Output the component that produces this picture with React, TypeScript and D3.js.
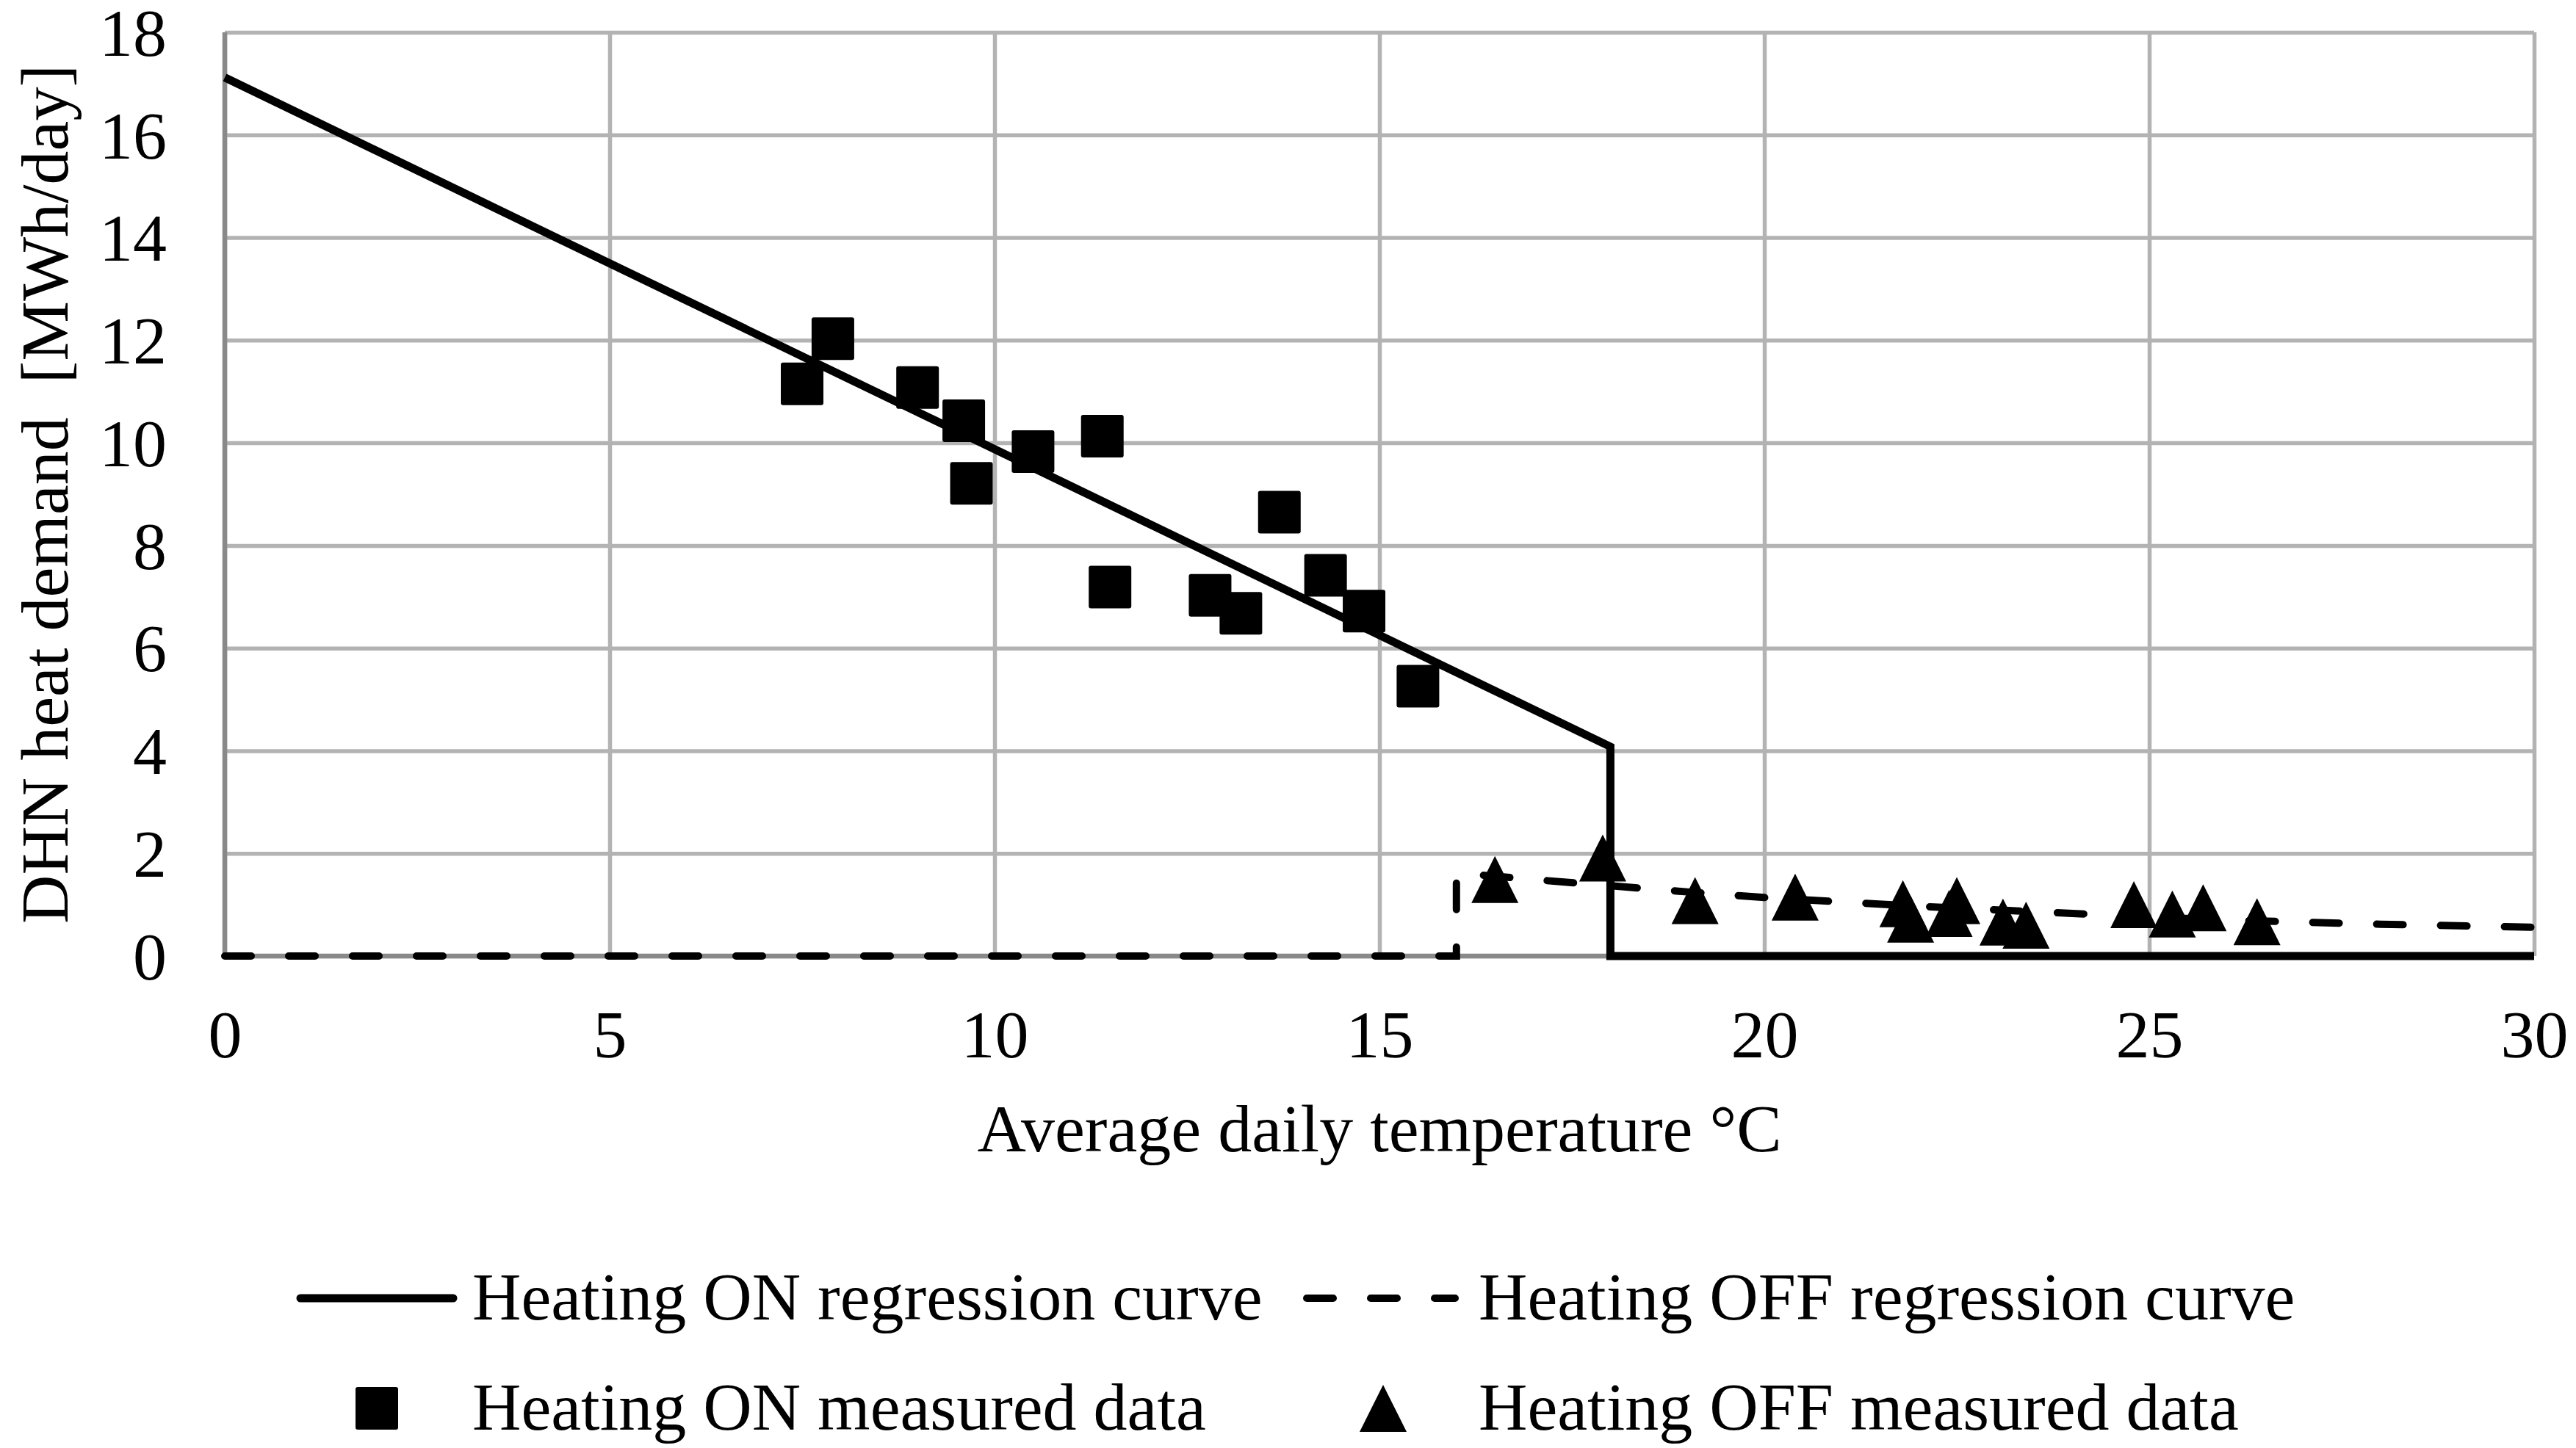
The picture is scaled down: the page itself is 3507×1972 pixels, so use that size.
import React, { useEffect, useRef } from 'react';
import * as d3 from 'd3';

// Heating ON measured data (temperature °C, MWh/day)
const onTemps = [7.5, 7.9, 9.0, 9.6, 9.7, 10.5, 11.4, 11.5, 12.8, 13.2, 13.7, 14.3, 14.8, 15.5];
const onDemand = [11.15, 12.03, 11.08, 10.43, 9.21, 9.83, 10.13, 7.19, 7.03, 6.68, 8.65, 7.42, 6.72, 5.26];

// Heating OFF measured data
const offTemps = [16.5, 17.9, 19.1, 20.4, 21.8, 21.9, 22.5, 22.4, 23.1, 23.4, 24.8, 25.3, 25.7, 26.4];
const offDemand = [1.49, 1.91, 1.08, 1.15, 1.02, 0.72, 1.08, 0.83, 0.66, 0.6, 1.0, 0.82, 0.94, 0.67];

// Regression curves
const onCurveT = [0, 18, 18, 30];
const onCurveY = [17.12, 4.08, 0, 0];
const offCurveT = [0, 16, 16, 17, 18, 19, 20, 22, 24, 26, 28, 30];
const offCurveY = [0, 0, 1.62, 1.49, 1.37, 1.25, 1.14, 0.97, 0.83, 0.7, 0.62, 0.56];

const xTicks = [0, 5, 10, 15, 20, 25, 30];
const yTicks = [0, 2, 4, 6, 8, 10, 12, 14, 16, 18];

const legendLabels = [
  'Heating ON regression curve',
  'Heating OFF regression curve',
  'Heating ON measured data',
  'Heating OFF measured data',
];

const W = 3507;
const H = 1972;
const FONT = '"Liberation Serif", "Times New Roman", serif';

export default function App() {
  const svgRef = useRef<SVGSVGElement>(null);

  useEffect(() => {
    if (!svgRef.current) return;
    const svg = d3.select(svgRef.current);
    svg.selectAll('*').remove();

    const margin = { top: 44, right: 57, bottom: 670, left: 306 };
    const width = W - margin.left - margin.right;
    const height = H - margin.top - margin.bottom;

    const x = d3.scaleLinear().domain([0, 30]).range([0, width]);
    const y = d3.scaleLinear().domain([0, 18]).range([height, 0]);

    const g = svg.append('g').attr('transform', `translate(${margin.left},${margin.top})`);

    // grid
    const gridY = g.append('g').call(d3.axisLeft(y).tickValues(yTicks).tickSize(-width).tickFormat(() => ''));
    gridY.select('.domain').remove();
    gridY.selectAll('line').attr('stroke', '#b3b3b3').attr('stroke-width', 5.5);

    const gridX = g.append('g').attr('transform', `translate(0,${height})`)
      .call(d3.axisBottom(x).tickValues(xTicks).tickSize(-height).tickFormat(() => ''));
    gridX.select('.domain').remove();
    gridX.selectAll('line').attr('stroke', '#b3b3b3').attr('stroke-width', 5.5);

    // axis lines
    g.append('line').attr('x1', 0).attr('x2', 0).attr('y1', 0).attr('y2', height)
      .attr('stroke', '#898989').attr('stroke-width', 6.5);
    g.append('line').attr('x1', 0).attr('x2', width).attr('y1', height).attr('y2', height)
      .attr('stroke', '#898989').attr('stroke-width', 6.5);

    // tick labels
    const yAxis = g.append('g').call(d3.axisLeft(y).tickValues(yTicks).tickSize(0).tickPadding(79));
    yAxis.select('.domain').remove();
    yAxis.selectAll('text').attr('font-family', FONT).attr('font-size', 92).attr('fill', '#000').attr('dy', '0.34em');

    const xAxis = g.append('g').attr('transform', `translate(0,${height})`)
      .call(d3.axisBottom(x).tickValues(xTicks).tickSize(0).tickPadding(73));
    xAxis.select('.domain').remove();
    xAxis.selectAll('text').attr('font-family', FONT).attr('font-size', 92).attr('fill', '#000');

    // regression curves
    const line = d3.line<number>().x((_, i) => 0).y(() => 0);
    const offLine = d3.line<number>()
      .x((_, i) => x(offCurveT[i]))
      .y((d) => y(d));
    const onLine = d3.line<number>()
      .x((_, i) => x(onCurveT[i]))
      .y((d) => y(d));
    void line;

    g.append('path').attr('d', offLine(offCurveY) as string)
      .attr('fill', 'none').attr('stroke', '#000').attr('stroke-width', 10)
      .attr('stroke-dasharray', '36,51').attr('stroke-linecap', 'round');

    g.append('path').attr('d', onLine(onCurveY) as string)
      .attr('fill', 'none').attr('stroke', '#000').attr('stroke-width', 11)
      .attr('stroke-linejoin', 'miter');

    // markers
    const sq = 58;
    g.selectAll('.sq').data(onDemand).enter().append('rect')
      .attr('x', (_, i) => x(onTemps[i]) - sq / 2)
      .attr('y', (d) => y(d) - sq / 2)
      .attr('width', sq).attr('height', sq).attr('rx', 3).attr('fill', '#000');

    const tri = (cx: number, cy: number) => {
      const hw = 32, hh = 32;
      return `M${cx},${cy - hh}L${cx + hw},${cy + hh}L${cx - hw},${cy + hh}Z`;
    };
    g.selectAll('.tri').data(offDemand).enter().append('path')
      .attr('d', (d, i) => tri(x(offTemps[i]), y(d)))
      .attr('fill', '#000');

    // axis titles
    svg.append('text')
      .attr('x', margin.left + width / 2).attr('y', 1568)
      .attr('text-anchor', 'middle').attr('font-family', FONT).attr('font-size', 92)
      .text('Average daily temperature °C');

    svg.append('text')
      .attr('transform', `translate(92,${margin.top + height / 2}) rotate(-90)`)
      .attr('text-anchor', 'middle').attr('font-family', FONT).attr('font-size', 92)
      .style('white-space', 'pre')
      .text('DHN heat demand  [MWh/day]');

    // legend
    const lg = svg.append('g');
    const row1 = 1768, row2 = 1918;
    lg.append('line').attr('x1', 409).attr('x2', 617).attr('y1', row1).attr('y2', row1)
      .attr('stroke', '#000').attr('stroke-width', 11).attr('stroke-linecap', 'round');
    lg.append('line').attr('x1', 1779).attr('x2', 1981).attr('y1', row1).attr('y2', row1)
      .attr('stroke', '#000').attr('stroke-width', 10)
      .attr('stroke-dasharray', '36,51').attr('stroke-linecap', 'round');
    lg.append('rect').attr('x', 513 - sq / 2).attr('y', row2 - sq / 2)
      .attr('width', sq).attr('height', sq).attr('rx', 3).attr('fill', '#000');
    lg.append('path').attr('d', tri(1883, row2)).attr('fill', '#000');

    const textPos = [[643, 1797], [2013, 1797], [643, 1947], [2013, 1947]];
    lg.selectAll('.lt').data(legendLabels).enter().append('text')
      .attr('x', (_, i) => textPos[i][0]).attr('y', (_, i) => textPos[i][1])
      .attr('font-family', FONT).attr('font-size', 92).attr('fill', '#000')
      .text((d) => d);
  }, []);

  return (
    <svg
      ref={svgRef}
      width={W}
      height={H}
      style={{ position: 'absolute', left: 0, top: 0, background: '#fff' }}
    />
  );
}
